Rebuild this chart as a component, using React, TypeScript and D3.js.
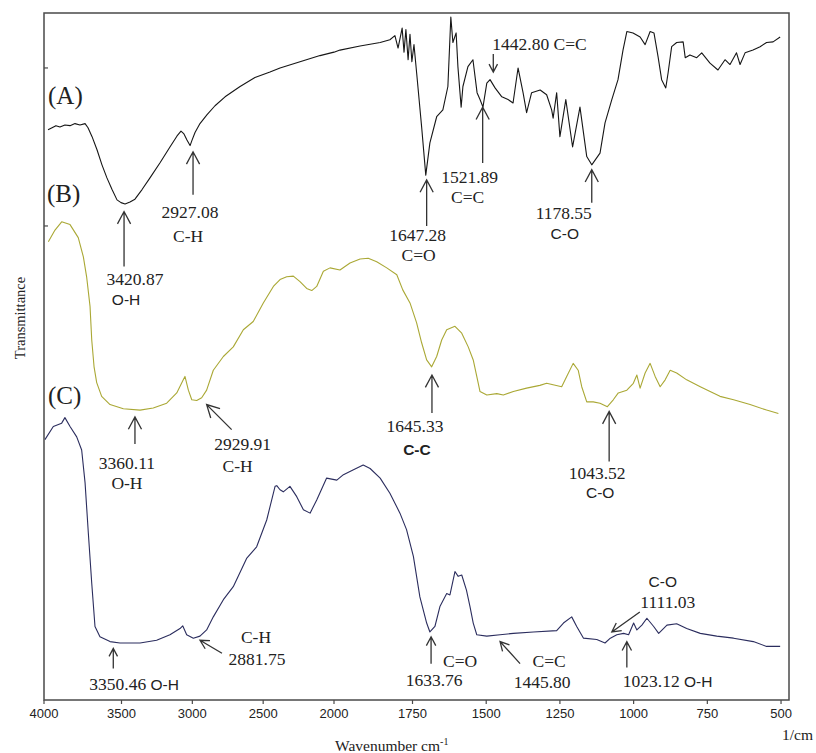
import React from 'react';
import * as d3 from 'd3';

// FTIR spectra, wavenumber (cm-1) vs relative transmittance (stacked, arbitrary units 0-100)
const spectrumA: [number, number][] = [
  [3974, 83.0], [3948, 83.3], [3923, 83.6], [3897, 83.4], [3865, 83.7], [3832, 83.6], [3800, 83.9],
  [3768, 83.7], [3735, 83.9], [3716, 83.3], [3690, 82.0], [3658, 80.1], [3626, 77.9], [3594, 76.0],
  [3561, 74.3], [3529, 72.8], [3503, 72.4], [3475, 72.2], [3440, 72.5], [3405, 72.9], [3355, 74.3],
  [3299, 76.0], [3228, 78.2], [3158, 80.5], [3108, 82.1], [3080, 82.8], [3059, 82.4], [3038, 81.5],
  [3016, 80.7], [3002, 81.5], [2981, 82.6], [2946, 83.9], [2896, 85.2], [2840, 86.5], [2769, 87.8],
  [2663, 89.3], [2558, 90.6], [2452, 91.4], [2381, 92.0], [2240, 92.9], [2099, 93.8], [2000, 94.3],
  [1981, 94.6], [1917, 95.2], [1853, 95.7], [1822, 96.1], [1806, 96.7], [1796, 94.9], [1783, 97.8],
  [1777, 94.3], [1771, 97.6], [1764, 93.2], [1758, 96.9], [1752, 92.9], [1745, 95.4], [1736, 91.3],
  [1719, 83.4], [1705, 76.4], [1691, 81.1], [1668, 84.9], [1647, 85.9], [1630, 89.3], [1620, 99.4],
  [1613, 95.7], [1602, 97.1], [1596, 92.2], [1585, 86.3], [1579, 89.3], [1562, 92.2], [1545, 93.2],
  [1531, 88.4], [1521, 87.4], [1511, 86.3], [1498, 89.8], [1487, 90.3], [1470, 89.1], [1447, 87.8],
  [1426, 87.4], [1409, 86.9], [1392, 92.0], [1375, 88.4], [1363, 85.5], [1346, 88.4], [1317, 88.8],
  [1295, 88.1], [1278, 85.9], [1273, 84.7], [1261, 88.4], [1250, 82.0], [1230, 87.4], [1207, 80.5],
  [1182, 86.3], [1159, 79.1], [1142, 77.9], [1114, 79.6], [1097, 84.0], [1074, 87.4], [1053, 90.3],
  [1036, 94.6], [1023, 97.3], [1002, 97.1], [978, 96.5], [961, 95.4], [944, 97.3], [931, 97.1],
  [917, 93.6], [905, 90.3], [891, 89.1], [883, 91.3], [871, 95.1], [854, 95.7], [832, 95.8],
  [825, 93.5], [809, 93.9], [786, 93.5], [769, 94.2], [741, 92.7], [714, 91.7], [690, 93.2],
  [673, 92.5], [651, 94.2], [639, 92.5], [622, 94.2], [595, 94.6], [571, 95.1], [549, 95.7],
  [527, 95.8], [503, 96.5],
];

const spectrumB: [number, number][] = [
  [3972, 66.7], [3929, 68.4], [3886, 69.6], [3832, 69.2], [3779, 67.3], [3746, 64.5], [3725, 61.6],
  [3703, 57.3], [3692, 52.4], [3677, 48.5], [3660, 46.2], [3628, 44.2], [3574, 43.0], [3487, 42.4],
  [3369, 42.2], [3276, 42.5], [3181, 43.2], [3110, 44.7], [3064, 46.6], [3052, 47.1], [3028, 45.1],
  [3004, 43.7], [2969, 43.6], [2934, 44.0], [2899, 45.1], [2852, 48.0], [2781, 50.0], [2711, 51.4],
  [2640, 53.9], [2570, 55.1], [2499, 57.8], [2428, 60.2], [2381, 61.2], [2334, 61.6], [2287, 61.7],
  [2240, 60.9], [2193, 59.9], [2157, 59.6], [2122, 60.2], [2075, 62.4], [2028, 62.9], [1981, 62.6],
  [1949, 63.6], [1917, 64.2], [1891, 64.3], [1864, 63.8], [1832, 62.9], [1800, 61.9], [1781, 59.7],
  [1758, 57.8], [1736, 54.9], [1719, 52.0], [1702, 49.5], [1685, 48.5], [1668, 50.0], [1651, 52.4],
  [1634, 53.9], [1606, 54.4], [1583, 53.4], [1561, 51.4], [1544, 49.5], [1532, 47.1], [1521, 44.9],
  [1498, 44.4], [1464, 44.6], [1442, 44.4], [1408, 44.9], [1363, 45.4], [1318, 45.8], [1295, 46.1],
  [1244, 45.6], [1227, 47.1], [1205, 49.0], [1188, 48.0], [1176, 45.6], [1159, 43.4], [1137, 43.4],
  [1114, 43.2], [1089, 42.7], [1069, 43.7], [1052, 44.7], [1023, 45.1], [1001, 46.1], [989, 47.3],
  [978, 45.4], [961, 47.6], [944, 49.0], [927, 47.1], [910, 45.6], [893, 46.6], [876, 48.0],
  [854, 47.6], [820, 46.6], [774, 45.6], [707, 44.2], [661, 43.7], [605, 43.0], [549, 42.2],
  [509, 41.7],
];

const spectrumC: [number, number][] = [
  [3994, 37.9], [3940, 39.8], [3886, 40.3], [3865, 41.1], [3832, 39.8], [3789, 38.3], [3757, 36.4],
  [3735, 31.6], [3714, 24.3], [3692, 17.0], [3671, 10.7], [3639, 9.2], [3574, 8.5], [3510, 8.3],
  [3369, 8.3], [3252, 8.7], [3158, 9.5], [3087, 10.4], [3068, 10.8], [3040, 9.5], [2993, 9.0],
  [2946, 9.3], [2899, 10.2], [2852, 12.1], [2781, 14.6], [2711, 16.5], [2617, 20.6], [2546, 22.3],
  [2475, 26.2], [2416, 31.1], [2404, 31.2], [2381, 30.6], [2358, 30.3], [2311, 31.1], [2263, 29.6],
  [2216, 27.7], [2169, 27.2], [2122, 29.1], [2052, 32.3], [1991, 32.0], [1970, 32.8], [1938, 33.5],
  [1907, 34.2], [1885, 33.7], [1853, 32.3], [1822, 30.1], [1790, 27.2], [1769, 24.8], [1747, 20.9],
  [1725, 15.0], [1702, 11.2], [1691, 9.9], [1674, 10.7], [1657, 13.6], [1634, 15.5], [1623, 15.3],
  [1606, 18.7], [1595, 18.0], [1583, 18.2], [1567, 16.0], [1555, 13.6], [1544, 11.2], [1532, 9.5],
  [1498, 9.3], [1453, 9.5], [1408, 9.7], [1340, 9.9], [1261, 10.1], [1238, 11.2], [1210, 12.1],
  [1193, 10.7], [1170, 9.0], [1125, 8.8], [1097, 8.3], [1079, 9.0], [1057, 9.5], [1034, 9.7],
  [1017, 9.5], [1000, 11.2], [989, 10.2], [972, 10.9], [955, 11.9], [932, 10.7], [915, 9.7],
  [887, 10.9], [854, 11.1], [820, 10.4], [774, 9.7], [718, 9.3], [661, 9.0], [594, 8.5],
  [549, 7.8], [503, 7.8],
];

const xTicks = [4000, 3500, 3000, 2500, 2000, 1750, 1500, 1250, 1000, 750, 500];
const yTicks = [92, 69];

type Seg = { text: string; sans?: boolean; bold?: boolean };
type Callout = {
  at: number; // arrow tip wavenumber
  t: number; // arrow tip transmittance
  tail: [number, number];
  head?: number;
  lines: { segs: Seg[]; dx: number; dy: number; anchor?: string }[];
};

const callouts: Callout[] = [
  // (A)
  { at: 3482, t: 71.1, tail: [0, 55], lines: [
    { segs: [{ text: '3420.87' }], dx: 11, dy: 73 },
    { segs: [{ text: 'O-H', sans: true }], dx: 2, dy: 93 }] },
  { at: 2995, t: 79.8, tail: [0, 43], lines: [
    { segs: [{ text: '2927.08' }], dx: -3, dy: 66 },
    { segs: [{ text: 'C-H' }], dx: -5, dy: 90 }] },
  { at: 1702, t: 75.7, tail: [0, 46], lines: [
    { segs: [{ text: '1647.28' }], dx: -9, dy: 61 },
    { segs: [{ text: 'C=O' }], dx: -8, dy: 81 }] },
  { at: 1512, t: 86.3, tail: [0, 56], lines: [
    { segs: [{ text: '1521.89' }], dx: -13, dy: 76 },
    { segs: [{ text: 'C=C' }], dx: -15, dy: 96 }] },
  { at: 1476, t: 91.4, tail: [0, -18], head: 9, lines: [
    { segs: [{ text: '1442.80 C=C' }], dx: -1, dy: -22, anchor: 'start' }] },
  { at: 1142, t: 77.2, tail: [0, 33], lines: [
    { segs: [{ text: '1178.55' }], dx: -28, dy: 49 },
    { segs: [{ text: 'C-O', sans: true }], dx: -27, dy: 69 }] },
  // (B)
  { at: 3405, t: 41.2, tail: [0, 27], lines: [
    { segs: [{ text: '3360.11' }], dx: -8, dy: 52 },
    { segs: [{ text: 'O-H' }], dx: -8, dy: 72 }] },
  { at: 2899, t: 43.0, tail: [25, 25], lines: [
    { segs: [{ text: '2929.91' }], dx: 36, dy: 45 },
    { segs: [{ text: 'C-H' }], dx: 31, dy: 67 }] },
  { at: 1684, t: 47.3, tail: [0, 38], lines: [
    { segs: [{ text: '1645.33' }], dx: -17, dy: 57 },
    { segs: [{ text: 'C-C', sans: true, bold: true }], dx: -15, dy: 80 }] },
  { at: 1083, t: 42.0, tail: [0, 50], lines: [
    { segs: [{ text: '1043.52' }], dx: -12, dy: 68 },
    { segs: [{ text: 'C-O', sans: true }], dx: -9, dy: 87 }] },
  // (C)
  { at: 3553, t: 7.5, tail: [0, 20], head: 9, lines: [
    { segs: [{ text: '3350.46' }, { text: ' O-H', sans: true }], dx: -24, dy: 42, anchor: 'start' }] },
  { at: 2946, t: 8.7, tail: [22, 13], head: 10, lines: [
    { segs: [{ text: 'C-H' }], dx: 56, dy: 3 },
    { segs: [{ text: '2881.75' }], dx: 57, dy: 25 }] },
  { at: 1687, t: 9.2, tail: [0, 27], head: 10, lines: [
    { segs: [{ text: 'C=O' }], dx: 29, dy: 30 },
    { segs: [{ text: '1633.76' }], dx: 3, dy: 49 }] },
  { at: 1453, t: 8.5, tail: [20, 22], head: 10, lines: [
    { segs: [{ text: 'C=C' }], dx: 49, dy: 25 },
    { segs: [{ text: '1445.80' }], dx: 42, dy: 46 }] },
  { at: 1074, t: 9.9, tail: [28, -20], head: 10, lines: [
    { segs: [{ text: 'C-O', sans: true }], dx: 51, dy: -45 },
    { segs: [{ text: '1111.03' }], dx: 56, dy: -24 }] },
  { at: 1023, t: 8.5, tail: [0, 26], head: 10, lines: [
    { segs: [{ text: '1023.12' }, { text: ' O-H', sans: true }], dx: -4, dy: 45, anchor: 'start' }] },
];

const W = 816;
const H = 753;
const frame = { left: 44, right: 789, top: 13, bottom: 700 };
const SERIF = "'Liberation Serif', 'Times New Roman', serif";
const SANS = "'Liberation Sans', Arial, sans-serif";

export default function App() {
  // split wavenumber axis: 4000-2000 compressed, 2000-500 expanded
  const x = d3.scaleLinear()
    .domain([4000, 3500, 2000, 1750, 473])
    .range([frame.left, 121.5, 334, 412.5, frame.right]);
  const y = d3.scaleLinear().domain([0, 100]).range([frame.bottom, frame.top]);

  const line = d3.line<[number, number]>()
    .x((d) => x(d[0]))
    .y((d) => y(d[1]));

  const series = [
    { name: 'A', data: spectrumA, color: '#161616' },
    { name: 'B', data: spectrumB, color: '#aaa835' },
    { name: 'C', data: spectrumC, color: '#2b2d5e' },
  ];

  const arrowPath = (c: Callout) => {
    const tx = x(c.at);
    const ty = y(c.t);
    const [ax, ay] = c.tail;
    const len = Math.hypot(ax, ay);
    const ux = ax / len, uy = ay / len;
    const hs = c.head ?? 14;
    const a = (28 * Math.PI) / 180;
    const r = (s: number) => [
      tx + hs * (ux * Math.cos(s * a) - uy * Math.sin(s * a)),
      ty + hs * (ux * Math.sin(s * a) + uy * Math.cos(s * a)),
    ];
    const [h1x, h1y] = r(1);
    const [h2x, h2y] = r(-1);
    return `M${tx},${ty}L${tx + ax},${ty + ay}M${h1x},${h1y}L${tx},${ty}L${h2x},${h2y}`;
  };

  return (
    <svg width={W} height={H} style={{ position: 'absolute', left: 0, top: 0, background: '#fff' }}>
      <rect x={0} y={0} width={W} height={H} fill="#fff" />

      {/* spectra */}
      {series.map((s) => (
        <path key={s.name} d={line(s.data) || ''} fill="none" stroke={s.color}
          strokeWidth={1.1} strokeLinejoin="round" />
      ))}

      {/* frame */}
      <rect x={frame.left} y={frame.top} width={frame.right - frame.left}
        height={frame.bottom - frame.top} fill="none" stroke="#4a4a4a" strokeWidth={1.5} />

      {/* y ticks (no labels) */}
      {yTicks.map((t) => (
        <line key={t} x1={frame.left} x2={frame.left + 4} y1={y(t)} y2={y(t)} stroke="#4a4a4a" strokeWidth={1.2} />
      ))}

      {/* x axis */}
      {xTicks.map((t) => (
        <g key={t}>
          <line x1={x(t)} x2={x(t)} y1={frame.bottom} y2={frame.bottom + 4} stroke="#4a4a4a" strokeWidth={1.2} />
          <text x={x(t)} y={718} textAnchor="middle" fontFamily={SANS} fontSize={13} fill="#222">{t}</text>
        </g>
      ))}
      <text x={335} y={751} fontFamily={SERIF} fontSize={15.5} fill="#222">
        Wavenumber cm<tspan dy={-6} fontSize={10}>-1</tspan>
      </text>
      <text x={782} y={740} fontFamily={SERIF} fontSize={15.5} fill="#222">1/cm</text>
      <text transform="translate(25,318) rotate(-90)" textAnchor="middle" fontFamily={SERIF}
        fontSize={14.5} fill="#222">Transmittance</text>

      {/* spectrum labels */}
      <text x={48} y={104} fontFamily={SERIF} fontSize={25} fill="#222">(A)</text>
      <text x={47} y={202} fontFamily={SERIF} fontSize={25} fill="#222">(B)</text>
      <text x={48} y={404} fontFamily={SERIF} fontSize={25} fill="#222">(C)</text>

      {/* peak callouts */}
      {callouts.map((c, i) => (
        <g key={i}>
          <path d={arrowPath(c)} fill="none" stroke="#333" strokeWidth={1.3} />
          {c.lines.map((l, j) => (
            <text key={j} x={x(c.at) + l.dx} y={y(c.t) + l.dy} textAnchor={l.anchor || 'middle'}
              fontFamily={SERIF} fontSize={17.5} fill="#222">
              {l.segs.map((s, k) => (
                <tspan key={k} fontFamily={s.sans ? SANS : SERIF} fontSize={s.sans ? 15.5 : 17.5}
                  fontWeight={s.bold ? 'bold' : 'normal'}>{s.text}</tspan>
              ))}
            </text>
          ))}
        </g>
      ))}
    </svg>
  );
}
